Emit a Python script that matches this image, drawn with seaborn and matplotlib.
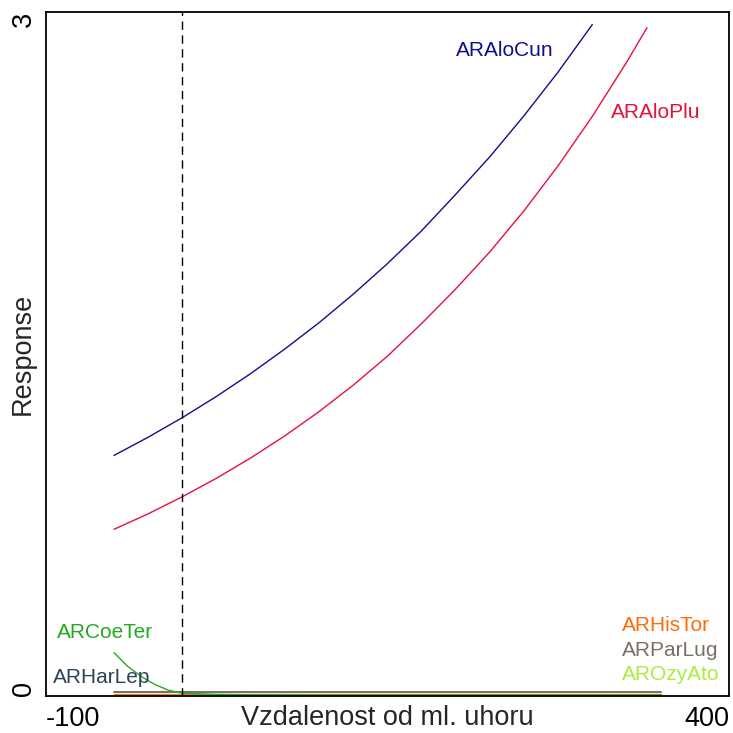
import numpy as np
import pandas as pd
import seaborn as sns
import matplotlib
matplotlib.use("Agg")
import matplotlib.pyplot as plt

# response curves
x_cun = [-50, -25, 0, 25, 50, 75, 100, 125, 150, 175, 200, 225, 250, 275, 300]
y_cun = [1.055, 1.135, 1.221, 1.314, 1.414, 1.522, 1.637, 1.762, 1.896, 2.040, 2.200, 2.365, 2.545, 2.737, 2.945]

x_plu = [-50, -25, 0, 25, 50, 75, 100, 125, 150, 175, 200, 225, 250, 275, 300, 325, 340]
y_plu = [0.731, 0.799, 0.874, 0.955, 1.044, 1.141, 1.247, 1.363, 1.490, 1.633, 1.785, 1.948, 2.128, 2.326, 2.542, 2.779, 2.931]

x_low = [-50, -40, -30, -20, -10, 0, 25, 50, 100, 150, 200, 250, 300, 350]
y_coe = [0.19, 0.13, 0.085, 0.05, 0.025, 0.012, 0.007, 0.005, 0.004, 0.004, 0.004, 0.004, 0.004, 0.004]
y_har = [0.002, 0.002, 0.002, 0.002, 0.002, 0.002, 0.002, 0.002, 0.002, 0.002, 0.002, 0.002, 0.002, 0.002]
y_his = [0.009, 0.009, 0.009, 0.009, 0.009, 0.009, 0.009, 0.009, 0.009, 0.009, 0.009, 0.009, 0.009, 0.009]
y_par = [0.019, 0.019, 0.019, 0.019, 0.019, 0.019, 0.019, 0.019, 0.019, 0.019, 0.019, 0.019, 0.019, 0.019]
y_ozy = [0.006, 0.006, 0.006, 0.006, 0.006, 0.006, 0.006, 0.006, 0.006, 0.006, 0.006, 0.006, 0.006, 0.006]

colors = {"ARAloCun": "#10108a", "ARAloPlu": "#e8103a", "ARCoeTer": "#22aa22",
          "ARHarLep": "#2f4358", "ARHisTor": "#ff6a0a", "ARParLug": "#787066",
          "AROzyAto": "#a8ee3a"}

sns.set_style("white")
plt.rcParams["font.family"] = ["Liberation Sans", "DejaVu Sans"]

fig = plt.figure(figsize=(7.33, 7.33), dpi=100)
ax = fig.add_axes([0.0623, 0.0505, 0.9322, 0.9331])

sns.lineplot(x=x_low, y=y_par, color=colors["ARParLug"], lw=1.4, ax=ax)
sns.lineplot(x=x_low, y=y_his, color=colors["ARHisTor"], lw=1.0, ax=ax)
sns.lineplot(x=x_low, y=y_ozy, color=colors["AROzyAto"], lw=1.0, ax=ax)
sns.lineplot(x=x_low, y=y_har, color=colors["ARHarLep"], lw=1.0, ax=ax)
sns.lineplot(x=x_low, y=y_coe, color=colors["ARCoeTer"], lw=1.0, ax=ax)
sns.lineplot(x=x_cun, y=y_cun, color=colors["ARAloCun"], lw=1.0, ax=ax)
sns.lineplot(x=x_plu, y=y_plu, color=colors["ARAloPlu"], lw=1.0, ax=ax)

ax.axvline(0, color="black", lw=1, ls=(0, (6, 4)))

fs = 15
ax.text(200, 2.83, "ARAloCun", color=colors["ARAloCun"], fontsize=fs, va="center")
ax.text(314, 2.56, "ARAloPlu", color=colors["ARAloPlu"], fontsize=fs, va="center")
ax.text(-92, 0.28, "ARCoeTer", color=colors["ARCoeTer"], fontsize=fs, va="center")
ax.text(-95, 0.08, "ARHarLep", color=colors["ARHarLep"], fontsize=fs, va="center")
ax.text(322, 0.31, "ARHisTor", color=colors["ARHisTor"], fontsize=fs, va="center")
ax.text(322, 0.20, "ARParLug", color=colors["ARParLug"], fontsize=fs, va="center")
ax.text(322, 0.096, "AROzyAto", color=colors["AROzyAto"], fontsize=fs, va="center")

ax.set_xlim(-100, 400)
ax.set_ylim(0, 3)
ax.set_xticks([-100, 0, 100, 200, 300, 400])
ax.set_xticklabels(["-100", "", "", "", "", "400"], fontsize=19.5)
ax.set_yticks([0, 0.5, 1, 1.5, 2, 2.5, 3])
ax.set_yticklabels(["0", "", "", "", "", "", "3"], fontsize=19.5, rotation=90, va="center")
xl = ax.get_xticklabels()
xl[0].set_ha("left")
xl[-1].set_ha("right")
yl = ax.get_yticklabels()
yl[0].set_va("bottom")
yl[-1].set_va("top")
ax.tick_params(direction="inout", length=7, width=1, colors="black", pad=4)
ax.tick_params(axis="y", pad=3)
for s in ax.spines.values():
    s.set_color("black")
    s.set_linewidth(1.3)

ax.set_xlabel("Vzdalenost od ml. uhoru", fontsize=19.5, labelpad=-20)
ax.set_ylabel("Response", fontsize=19.5, labelpad=-18)

fig.savefig("out.png", dpi=100)
